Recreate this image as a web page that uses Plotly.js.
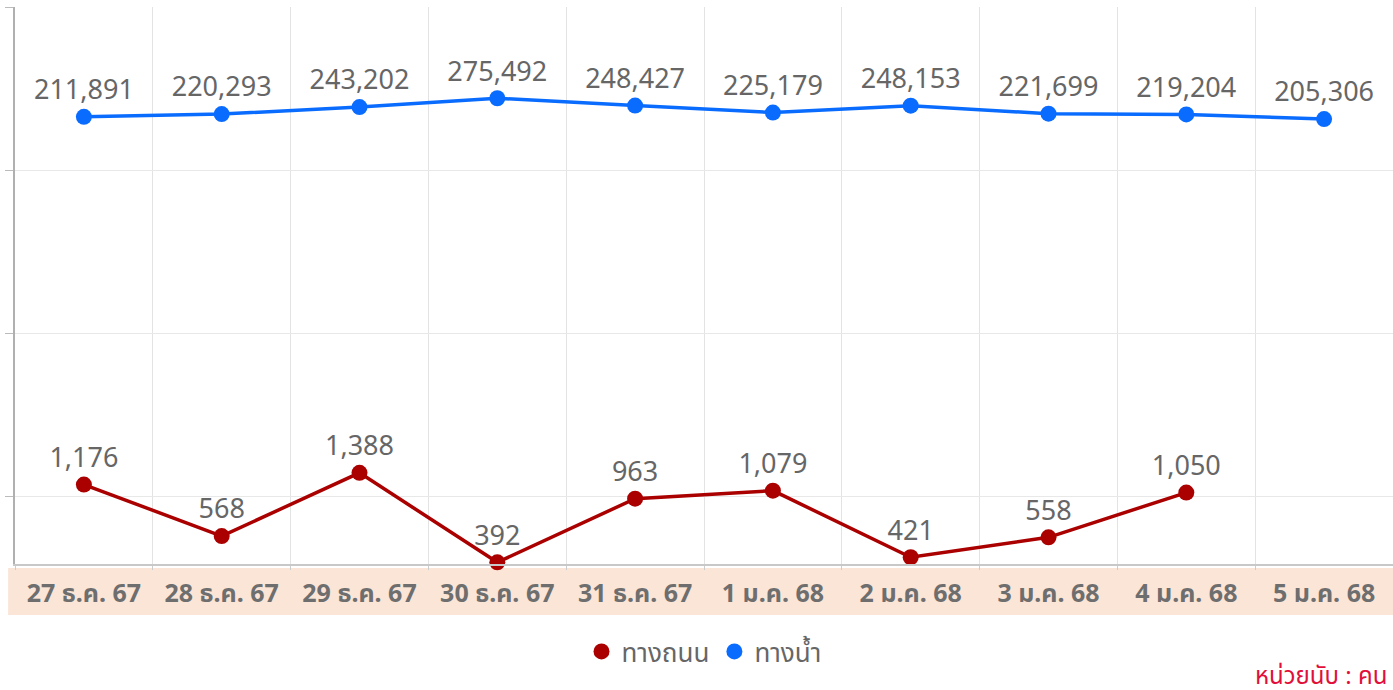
<!DOCTYPE html>
<html>
<head>
<meta charset="utf-8">
<script src="https://cdn.plot.ly/plotly-3.0.1.min.js"></script>
<style>html,body{margin:0;padding:0;background:#fff;}#chart{width:1393px;height:690px;}</style>
</head>
<body>
<div id="chart"></div>
<script>
const categories = ["27 ธ.ค. 67","28 ธ.ค. 67","29 ธ.ค. 67","30 ธ.ค. 67","31 ธ.ค. 67","1 ม.ค. 68","2 ม.ค. 68","3 ม.ค. 68","4 ม.ค. 68","5 ม.ค. 68"];
const roadName = "ทางถนน";
const waterName = "ทางน้ำ";
const roadValues = [1176, 568, 1388, 392, 963, 1079, 421, 558, 1050, null];
const waterValues = [211891, 220293, 243202, 275492, 248427, 225179, 248153, 221699, 219204, 205306];
const unitNote = "หน่วยนับ : คน";

const fmt = v => v == null ? "" : v.toLocaleString("en-US");
const FONT = "Noto Sans, 'Noto Sans Thai', Tahoma, sans-serif";

const traces = [
  {
    x: categories, y: roadValues, name: roadName, type: "scatter",
    mode: "lines+markers+text", showlegend: false,
    line: {color: "#aa0000", width: 3.5},
    marker: {color: "#aa0000", size: 16},
    text: roadValues.map(fmt), textposition: "top center",
    textfont: {family: FONT, size: 27, color: "#666666"},
    cliponaxis: false, hoverinfo: "x+y"
  },
  {
    x: categories, y: waterValues, name: waterName, type: "scatter",
    mode: "lines+markers+text", showlegend: false,
    line: {color: "#0a6cff", width: 3.5},
    marker: {color: "#0a6cff", size: 16},
    text: waterValues.map(fmt), textposition: "top center",
    textfont: {family: FONT, size: 27, color: "#666666"},
    cliponaxis: false, hoverinfo: "x+y"
  },
  {x: [categories[0]], y: [null], name: roadName, type: "scatter", mode: "markers",
   marker: {color: "#aa0000", size: 24}, showlegend: true, hoverinfo: "skip"},
  {x: [categories[0]], y: [null], name: waterName, type: "scatter", mode: "markers",
   marker: {color: "#0a6cff", size: 24}, showlegend: true, hoverinfo: "skip"}
];

const layout = {
  width: 1393, height: 690,
  margin: {l: 15, r: 0, t: 7, b: 126},
  paper_bgcolor: "#ffffff", plot_bgcolor: "#ffffff",
  font: {family: FONT, color: "#666666"},
  showlegend: true,
  legend: {orientation: "h", x: 0.5, xanchor: "center", y: -0.115, yanchor: "top",
           font: {family: FONT, size: 26, color: "#666666"}, itemsizing: "trace", itemwidth: 30},
  xaxis: {
    type: "category", tickson: "boundaries", ticks: "outside", ticklen: 4, tickcolor: "#cccccc",
    showgrid: true, gridcolor: "#e3e3e3", gridwidth: 1,
    showline: true, linecolor: "#c8c8c8", linewidth: 2,
    tickfont: {family: FONT, size: 25, color: "#6e6e6e", weight: "bold"},
    ticklabelstandoff: 6,
    range: [-0.5, 9.5], fixedrange: true
  },
  yaxis: {
    type: "log", range: [2.583, 6.0],
    showgrid: true, gridcolor: "#e8e8e8", gridwidth: 1,
    showticklabels: false, ticks: "outside", ticklen: 8, tickcolor: "#bbbbbb",
    dtick: 1,
    showline: true, linecolor: "#b0b0b0", linewidth: 2,
    zeroline: false, fixedrange: true
  },
  shapes: [
    {type: "rect", xref: "paper", yref: "paper", x0: -0.005, x1: 1.0, y0: -0.0915, y1: -0.0072,
     fillcolor: "#fbe5d7", line: {width: 0}, layer: "below"}
  ],
  annotations: [
    {text: unitNote, xref: "paper", yref: "paper", x: 1, xanchor: "right", xshift: -4, y: -0.165, yanchor: "top",
     showarrow: false, font: {family: FONT, size: 24, color: "#e0103a"}}
  ]
};

Plotly.newPlot("chart", traces, layout, {displayModeBar: false, staticPlot: true});
</script>
</body>
</html>
